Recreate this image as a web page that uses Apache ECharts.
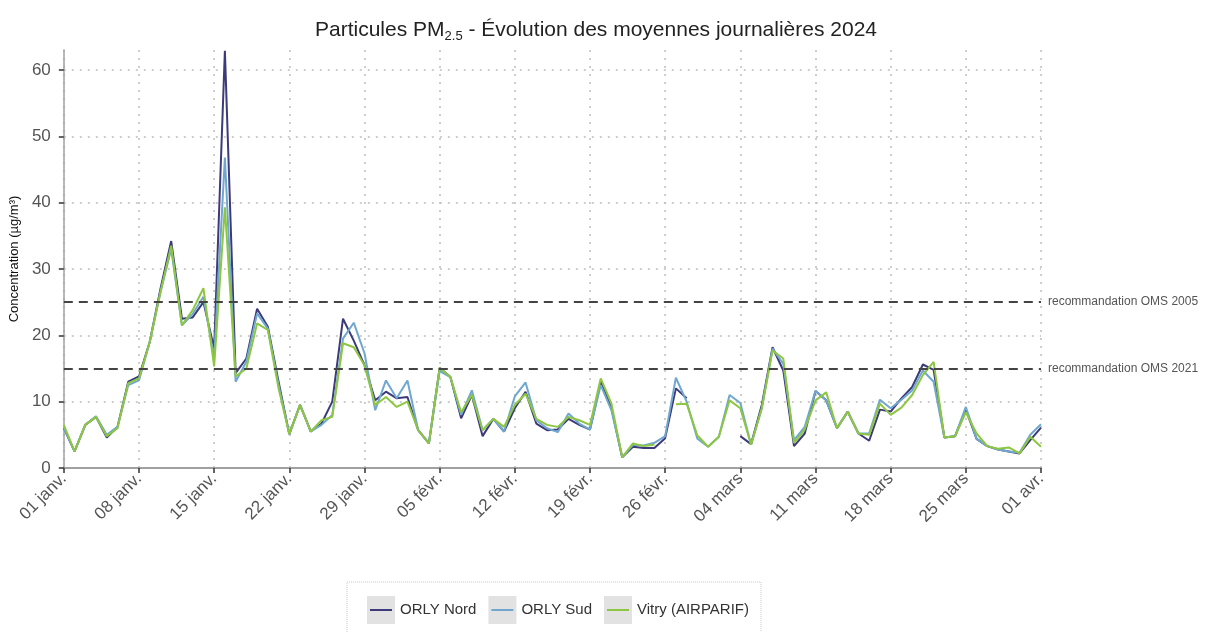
<!DOCTYPE html>
<html>
<head>
<meta charset="utf-8">
<script src="https://cdn.jsdelivr.net/npm/echarts@6/dist/echarts.min.js"></script>
<style>
  html, body { margin: 0; padding: 0; background: #fff; }
  #chart { width: 1213px; height: 632px; }
</style>
</head>
<body>
<div id="chart"></div>
<script>
// tick labels shown on the date axis (one per week)
const tickLabels = [
  "01 janv.", "08 janv.", "15 janv.", "22 janv.", "29 janv.", "05 févr.", "12 févr.",
  "19 févr.", "26 févr.", "04 mars", "11 mars", "18 mars", "25 mars", "01 avr."
];
const yTicks = [0, 10, 20, 30, 40, 50, 60];

// daily means, 01/01/2024 -> 01/04/2024 (92 days), null = no measurement
const orlyNord = [
  6.0, 2.5, 6.5, 7.7, 4.6, 6.2, 13.0, 13.8, 19.0, 27.0,
  34.2, 22.5, 22.7, 25.0, 18.0, 62.9, 14.3, 16.5, 24.0, 21.3,
  13.0, 5.1, 9.5, 5.5, 6.7, 10.0, 22.5, 19.2, 15.5, 10.2,
  11.5, 10.5, 10.7, 5.7, 3.7, 15.1, 13.7, 7.5, 11.0, 4.8,
  7.4, 5.5, 9.0, 11.5, 6.7, 5.7, 5.8, 7.4, 6.5, 5.8,
  13.0, 9.0, 1.6, 3.2, 3.0, 3.0, 4.5, 12.0, 10.5, null,
  null, null, null, 4.8, 3.6, 9.5, 18.2, 14.7, 3.3, 5.2,
  11.6, 10.2, 6.0, 8.5, 5.2, 4.1, 8.8, 8.5, 10.5, 12.2,
  15.6, 14.8, 4.6, 4.8, 8.8, 4.4, 3.3, 2.8, 2.5, 2.2,
  4.2, 6.1
];
const orlySud = [
  6.0, 2.5, 6.5, 7.8, 5.0, 6.2, 12.5, 13.2, 19.0, 26.5,
  33.0, 21.5, 23.2, 25.8, 16.6, 46.8, 13.0, 16.0, 23.3, 21.0,
  12.5, 5.1, 9.5, 5.5, 6.5, 8.0, 19.5, 21.9, 17.3, 8.7,
  13.2, 10.5, 13.2, 5.7, 3.7, 14.6, 13.7, 8.0, 11.7, 5.7,
  7.4, 5.5, 10.8, 12.9, 7.2, 6.0, 5.4, 8.2, 6.7, 5.8,
  12.5, 8.7, 1.6, 3.5, 3.4, 3.8, 4.8, 13.6, 10.0, 4.4,
  3.2, 4.7, 11.0, 9.8, 3.5, 9.0, 18.0, 15.7, 4.2, 6.2,
  11.6, 10.2, 6.0, 8.5, 5.2, 5.2, 10.3, 9.0, 10.3, 11.7,
  14.7, 13.0, 4.6, 4.8, 9.2, 4.4, 3.3, 2.8, 2.5, 2.3,
  5.0, 6.6
];
const vitry = [
  6.5, 2.5, 6.5, 7.7, 4.8, 6.0, 12.8, 13.5, 19.0, 26.5,
  33.5, 21.5, 23.8, 27.1, 15.3, 39.3, 13.8, 15.0, 21.8, 20.8,
  12.0, 5.1, 9.5, 5.5, 7.2, 7.7, 18.8, 18.2, 15.5, 9.5,
  10.7, 9.2, 10.0, 5.7, 3.7, 15.1, 13.7, 8.4, 11.0, 5.7,
  7.4, 6.2, 9.5, 11.2, 7.4, 6.5, 6.2, 7.7, 7.2, 6.5,
  13.5, 9.7, 1.6, 3.7, 3.3, 3.5, null, 9.6, 9.7, 4.9,
  3.2, 4.7, 10.2, 9.0, 3.5, 9.0, 17.7, 16.5, 3.8, 5.8,
  10.2, 11.4, 6.0, 8.5, 5.2, 5.0, 9.7, 8.0, 9.1, 11.0,
  14.0, 16.0, 4.6, 4.8, 8.4, 5.2, 3.3, 2.9, 3.1, 2.2,
  4.7, 3.2
];

// WHO guideline levels
const seuils = [
  { name: "recommandation OMS 2005", value: 25 },
  { name: "recommandation OMS 2021", value: 15 }
];

const seriesNames = ["ORLY Nord", "ORLY Sud", "Vitry (AIRPARIF)"];
const colors = ["#3d3a7a", "#6fa7cf", "#8dc640"];

// one category per day of 2024, from 1 Jan to 1 Apr
const days = [];
for (let d = new Date(2024, 0, 1); d <= new Date(2024, 3, 1); d.setDate(d.getDate() + 1)) {
  days.push(d.getFullYear() + "-" + String(d.getMonth() + 1).padStart(2, "0") + "-" + String(d.getDate()).padStart(2, "0"));
}

const FONT = "'Liberation Sans', Arial, sans-serif";
const chart = echarts.init(document.getElementById("chart"));

// two stacked legends: grey squares with text, then the coloured strokes on top
const legendBase = {
  top: 582,
  left: 347,
  orient: "horizontal",
  itemHeight: 28,
  data: seriesNames,
  textStyle: { fontFamily: FONT, fontSize: 15, color: "#333" }
};

const option = {
  backgroundColor: "#fff",
  animation: false,
  title: {
    text: "{a|Particules PM}{s|2.5}{a| - Évolution des moyennes journalières 2024}",
    left: 310,
    top: 12,
    textStyle: {
      rich: {
        a: { fontFamily: FONT, fontSize: 21, fontWeight: "normal", color: "#222" },
        s: { fontFamily: FONT, fontSize: 13, fontWeight: "normal", color: "#222", padding: [13, 0, 0, 0] }
      }
    }
  },
  tooltip: { trigger: "axis" },
  legend: [
    Object.assign({}, legendBase, {
      padding: [14, 12, 14, 20],
      itemGap: 12,
      itemWidth: 28,
      icon: "rect",
      itemStyle: { color: "#e2e2e2", borderWidth: 0 },
      borderColor: "#c8c8c8",
      borderWidth: 1,
      borderType: "dotted"
    }),
    Object.assign({}, legendBase, {
      padding: [14, 12, 14, 23],
      itemGap: 18,
      itemWidth: 22,
      symbolKeepAspect: false,
      icon: "path://M0,0H22V0.01H0Z M0,13H22V15H0Z M0,27.99H22V28H0Z",
      textStyle: { fontFamily: FONT, fontSize: 15, color: "rgba(0,0,0,0)" }
    })
  ],
  grid: { left: 62, right: 172, top: 50, bottom: 164 },
  xAxis: {
    type: "category",
    data: days,
    boundaryGap: false,
    axisLine: { lineStyle: { color: "#a0a0a0", width: 2 } },
    axisTick: { show: true, interval: 6, length: 5, lineStyle: { color: "#333", width: 1.5 } },
    axisLabel: {
      interval: 6,
      rotate: 45,
      margin: 8,
      fontFamily: FONT,
      fontSize: 17,
      color: "#555",
      formatter: (v, i) => tickLabels[Math.round(i / 7)]
    },
    splitLine: { show: true, interval: 6, lineStyle: { color: "#bdbdbd", type: [2, 6], width: 1.5 } }
  },
  yAxis: {
    type: "value",
    min: 0,
    max: 63,
    interval: 10,
    name: "Concentration (µg/m³)",
    nameLocation: "middle",
    nameGap: 36,
    nameTextStyle: { fontFamily: FONT, fontSize: 13, color: "#111" },
    axisLine: { show: true, lineStyle: { color: "#a0a0a0", width: 1.5 } },
    axisTick: { show: true, customValues: yTicks, length: 5, lineStyle: { color: "#333", width: 1.5 } },
    axisLabel: { customValues: yTicks, margin: 13, fontFamily: FONT, fontSize: 17, color: "#555" },
    splitLine: { show: true, showMinLine: false, lineStyle: { color: "#bdbdbd", type: [2, 6], width: 1.5 } }
  },
  series: seriesNames.map((name, k) => ({
    name: name,
    type: "line",
    data: [orlyNord, orlySud, vitry][k],
    showSymbol: false,
    symbol: "none",
    connectNulls: false,
    lineStyle: { width: 2, color: colors[k] },
    itemStyle: { color: colors[k] },
    markLine: k === 0 ? {
      silent: true,
      symbol: "none",
      lineStyle: { color: "#444", type: [9, 6], width: 2 },
      label: {
        position: "end",
        distance: 7,
        formatter: "{b}",
        fontFamily: FONT,
        fontSize: 12,
        color: "#555"
      },
      data: seuils.map(s => ({ name: s.name, yAxis: s.value }))
    } : undefined
  }))
};

chart.setOption(option);
</script>
</body>
</html>
